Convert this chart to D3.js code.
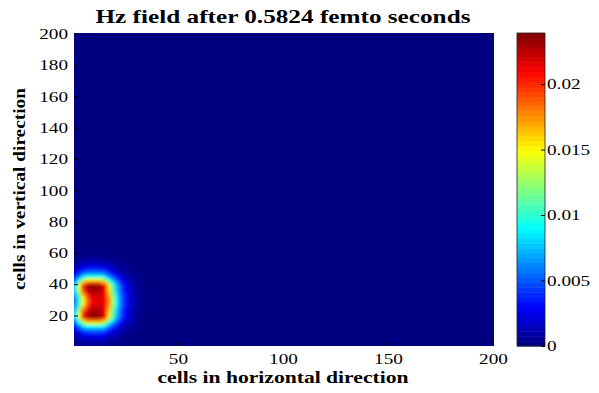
<!DOCTYPE html>
<html><head><meta charset="utf-8">
<script src="https://cdn.jsdelivr.net/npm/d3@7"></script>
<style>
body{margin:0;background:#fff}
svg{display:block;font-family:"Liberation Serif","Times New Roman",serif}
</style>
</head><body><svg id="c" width="599" height="393"></svg>
<script>
// ---------- data ----------
const titleText = "Hz field after 0.5824 femto seconds";
const xLabelText = "cells in horizontal direction";
const yLabelText = "cells in vertical direction";
const xTicks = [50, 100, 150, 200];
const yTicks = [20, 40, 60, 80, 100, 120, 140, 160, 180, 200];
const cbTicks = [0, 0.005, 0.01, 0.015, 0.02];
const cMax = 0.0239;
const gridSize = 200;
// sampled field (every 2 cells) around the source, units of 1e-3; everything else is 0
const xCells = [1, 3, 5, 7, 9, 11, 13, 15, 17, 19, 21, 23, 25, 27, 29, 31, 33];
const yCells = [57, 55, 53, 51, 49, 47, 45, 43, 41, 39, 37, 35, 33, 31, 29,
                27, 25, 23, 21, 19, 17, 15, 13, 11, 9, 7, 5, 3, 1];
const hzField = [
 [0.2,0.3,0.5,0.5,0.5,0.5,0.5,0.5,0.3,0.2,0.2,0.1,0.1,0,0,0,0],
 [0.3,0.6,0.8,0.9,0.9,0.9,0.9,0.8,0.6,0.4,0.3,0.2,0.1,0.1,0,0,0],
 [0.6,1.0,1.4,1.6,1.6,1.6,1.6,1.5,1.1,0.8,0.5,0.3,0.2,0.1,0.1,0,0],
 [1.0,1.7,2.4,2.6,2.7,2.7,2.6,2.4,1.8,1.3,0.8,0.5,0.3,0.2,0.1,0.1,0],
 [1.5,2.6,3.7,4.1,4.2,4.2,4.1,3.8,2.8,2.0,1.3,0.8,0.5,0.3,0.2,0.1,0],
 [2.3,3.9,5.5,6.2,6.3,6.3,6.2,5.7,4.2,3.0,1.9,1.2,0.8,0.5,0.3,0.1,0.1],
 [3.4,5.8,8.2,9.2,9.4,9.4,9.2,8.4,6.2,4.4,2.9,1.8,1.2,0.7,0.4,0.2,0.1],
 [5.1,8.7,12.3,13.8,14.1,14.1,13.8,12.6,9.3,6.6,4.3,2.8,1.7,1.1,0.6,0.3,0.1],
 [6.8,11.6,16.4,18.4,18.8,18.8,18.4,16.8,12.4,8.8,5.8,3.7,2.3,1.4,0.8,0.4,0.2],
 [8.5,14.5,20.5,23.0,23.5,23.5,23.0,21.0,15.5,11.0,7.2,4.6,2.9,1.8,1.0,0.5,0.2],
 [8.3,14.1,20.0,22.6,23.3,23.3,22.9,21.0,15.8,11.2,7.3,4.7,3.0,1.8,1.0,0.5,0.2],
 [7.8,13.2,18.7,21.7,22.8,22.9,22.6,21.0,16.3,11.6,7.6,4.9,3.1,1.9,1.1,0.5,0.2],
 [6.9,11.6,16.6,20.1,21.9,22.2,22.0,21.0,17.1,12.3,8.1,5.3,3.4,2.1,1.1,0.6,0.3],
 [6.4,10.7,15.4,19.2,21.4,21.8,21.7,21.0,17.6,12.7,8.4,5.5,3.5,2.1,1.2,0.6,0.3],
 [6.0,10.0,14.5,18.5,21.0,21.5,21.5,21.0,18.0,13.0,8.6,5.6,3.6,2.2,1.2,0.6,0.3],
 [6.4,10.7,15.4,19.2,21.4,21.8,21.7,21.0,17.6,12.7,8.4,5.5,3.5,2.1,1.2,0.6,0.3],
 [6.9,11.6,16.6,20.1,21.9,22.2,22.0,21.0,17.1,12.3,8.1,5.3,3.4,2.1,1.1,0.6,0.3],
 [7.8,13.2,18.7,21.7,22.8,22.9,22.6,21.0,16.3,11.6,7.6,4.9,3.1,1.9,1.1,0.5,0.2],
 [8.3,14.1,20.0,22.6,23.3,23.3,22.9,21.0,15.8,11.2,7.3,4.7,3.0,1.8,1.0,0.5,0.2],
 [8.5,14.5,20.5,23.0,23.5,23.5,23.0,21.0,15.5,11.0,7.2,4.6,2.9,1.8,1.0,0.5,0.2],
 [6.8,11.6,16.4,18.4,18.8,18.8,18.4,16.8,12.4,8.8,5.8,3.7,2.3,1.4,0.8,0.4,0.2],
 [5.1,8.7,12.3,13.8,14.1,14.1,13.8,12.6,9.3,6.6,4.3,2.8,1.7,1.1,0.6,0.3,0.1],
 [3.4,5.8,8.2,9.2,9.4,9.4,9.2,8.4,6.2,4.4,2.9,1.8,1.2,0.7,0.4,0.2,0.1],
 [2.3,3.9,5.5,6.2,6.3,6.3,6.2,5.7,4.2,3.0,1.9,1.2,0.8,0.5,0.3,0.1,0.1],
 [1.5,2.6,3.7,4.1,4.2,4.2,4.1,3.8,2.8,2.0,1.3,0.8,0.5,0.3,0.2,0.1,0],
 [1.0,1.7,2.4,2.6,2.7,2.7,2.6,2.4,1.8,1.3,0.8,0.5,0.3,0.2,0.1,0.1,0],
 [0.6,1.0,1.4,1.6,1.6,1.6,1.6,1.5,1.1,0.8,0.5,0.3,0.2,0.1,0.1,0,0],
 [0.3,0.6,0.8,0.9,0.9,0.9,0.9,0.8,0.6,0.4,0.3,0.2,0.1,0.1,0,0,0],
 [0.2,0.3,0.5,0.5,0.5,0.5,0.5,0.5,0.3,0.2,0.2,0.1,0.1,0,0,0,0]
];

// ---------- layout ----------
const SX = 1.28; // horizontal stretch of the original raster text
const plot = {l: 74, r: 494, t: 33, b: 346};
const cb = {l: 517, r: 545, t: 33, b: 346};

function jet(t) {
  t = Math.max(0, Math.min(1, t));
  const c = v => Math.round(255 * Math.max(0, Math.min(1, v)));
  const r = Math.min(4 * t - 1.5, -4 * t + 4.5);
  const g = Math.min(4 * t - 0.5, -4 * t + 3.5);
  const b = Math.min(4 * t + 0.5, -4 * t + 2.5);
  return `rgb(${c(r)},${c(g)},${c(b)})`;
}
const color = d3.scaleSequential(jet).domain([0, cMax]).clamp(true);

const x = d3.scaleLinear().domain([0.5, gridSize + 0.5]).range([plot.l, plot.r]);
const y = d3.scaleLinear().domain([0.5, gridSize + 0.5]).range([plot.b, plot.t]);
const cbY = d3.scaleLinear().domain([0, cMax]).range([cb.b, cb.t]);

const svg = d3.select("#c");
const defs = svg.append("defs");
defs.append("clipPath").attr("id", "plotClip").append("rect")
  .attr("x", plot.l).attr("y", plot.t)
  .attr("width", plot.r - plot.l).attr("height", plot.b - plot.t);
defs.append("filter").attr("id", "smooth")
  .attr("x", "-20%").attr("y", "-20%").attr("width", "140%").attr("height", "140%")
  .append("feGaussianBlur").attr("stdDeviation", 1.8);

// background (zero field)
svg.append("rect")
  .attr("x", plot.l).attr("y", plot.t)
  .attr("width", plot.r - plot.l).attr("height", plot.b - plot.t)
  .attr("fill", color(0));

// field cells
const cells = [];
hzField.forEach((row, i) => row.forEach((v, j) => cells.push({xc: xCells[j], yc: yCells[i], v: v * 1e-3, j})));
const fieldG = svg.append("g").attr("clip-path", "url(#plotClip)")
  .append("g").attr("filter", "url(#smooth)");
fieldG.selectAll("rect").data(cells).join("rect")
  .attr("x", d => x(d.xc - 1) - (d.j === 0 ? 8 : 0))
  .attr("y", d => y(d.yc + 1))
  .attr("width", d => x(d.xc + 1) - x(d.xc - 1) + 0.6 + (d.j === 0 ? 8 : 0))
  .attr("height", d => y(d.yc - 1) - y(d.yc + 1) + 0.6)
  .attr("fill", d => color(d.v));

// axes
const fontTick = 15;
const xAxis = d3.axisBottom(x).tickValues(xTicks).tickSize(-4).tickPadding(7);
const gx = svg.append("g").attr("transform", `translate(0,${plot.b})`).call(xAxis);
gx.select(".domain").remove();
gx.selectAll(".tick line").attr("stroke", "#000");
gx.selectAll("text").attr("font-size", fontTick).attr("fill", "#000")
  .attr("font-family", "Liberation Serif").attr("transform", `scale(${SX},1)`);

const yAxis = d3.axisLeft(y).tickValues(yTicks).tickSize(-4).tickPadding(6);
const gy = svg.append("g").attr("transform", `translate(${plot.l},0)`).call(yAxis);
gy.select(".domain").remove();
gy.selectAll(".tick line").attr("stroke", "#000");
gy.selectAll("text").attr("font-size", fontTick).attr("fill", "#000")
  .attr("font-family", "Liberation Serif")
  .attr("x", -6 / SX).attr("transform", `scale(${SX},1)`);

// colorbar
const steps = d3.range(64);
const cbg = svg.append("g");
cbg.selectAll("rect").data(steps).join("rect")
  .attr("x", cb.l)
  .attr("width", cb.r - cb.l)
  .attr("y", i => cbY((i + 1) / 64 * cMax))
  .attr("height", i => cbY(i / 64 * cMax) - cbY((i + 1) / 64 * cMax) + 0.5)
  .attr("fill", i => color((i + 0.5) / 64 * cMax));
cbg.append("rect").attr("x", cb.l).attr("y", cb.t)
  .attr("width", cb.r - cb.l).attr("height", cb.b - cb.t)
  .attr("fill", "none").attr("stroke", "#222").attr("stroke-width", 0.8);
const cbAxis = d3.axisRight(cbY).tickValues(cbTicks).tickSize(-4).tickPadding(2)
  .tickFormat(d => d === 0 ? "0" : String(+d.toFixed(3)));
const gc = svg.append("g").attr("transform", `translate(${cb.r},0)`).call(cbAxis);
gc.select(".domain").remove();
gc.selectAll(".tick line").attr("stroke", "#000");
gc.selectAll("text").attr("font-size", fontTick).attr("fill", "#000")
  .attr("font-family", "Liberation Serif")
  .attr("x", 2 / SX).attr("transform", `scale(${SX},1)`);

// title & labels
svg.append("text").attr("x", 283).attr("y", 23)
  .attr("text-anchor", "middle").attr("font-size", 19).attr("font-weight", "bold")
  .attr("fill", "#000").attr("textLength", 375).attr("lengthAdjust", "spacingAndGlyphs")
  .text(titleText);
svg.append("text").attr("x", 283).attr("y", 383)
  .attr("text-anchor", "middle").attr("font-size", 17).attr("font-weight", "bold")
  .attr("fill", "#000").attr("textLength", 251).attr("lengthAdjust", "spacingAndGlyphs")
  .text(xLabelText);
svg.append("text")
  .attr("transform", `translate(25,189) rotate(-90)`)
  .attr("text-anchor", "middle").attr("font-size", 17).attr("font-weight", "bold")
  .attr("fill", "#000").attr("textLength", 202).attr("lengthAdjust", "spacingAndGlyphs")
  .text(yLabelText);
</script>
</body></html>
